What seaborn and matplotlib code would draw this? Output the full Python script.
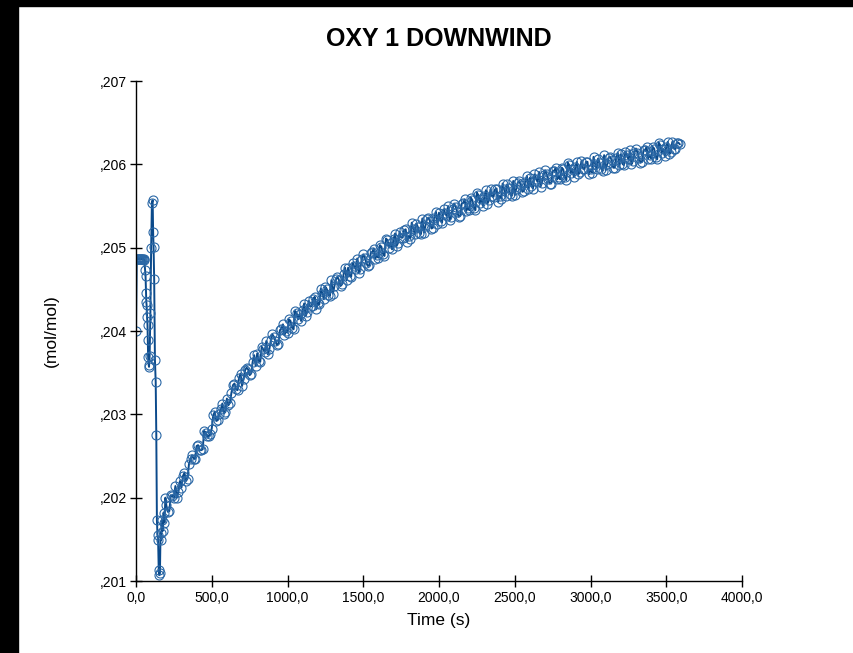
import numpy as np
import pandas as pd
import matplotlib
matplotlib.use('Agg')
import matplotlib.pyplot as plt
from matplotlib.patches import Rectangle
from matplotlib.ticker import FuncFormatter
import seaborn as sns

#------------------------------------------------------------------------------
# DATA
#------------------------------------------------------------------------------

# start-up transient: flat plateau, dip, spike, crash to the minimum
time_start = [0, 5, 10, 15, 20, 25, 30, 35, 40, 45, 50, 55,
              60, 63, 66, 68, 70, 73, 76, 78, 80, 84, 86,
              90, 95, 100, 105, 110, 113, 116, 120, 125, 130,
              134, 138, 142, 146, 150, 154, 158, 162, 166, 170, 176, 182, 188, 194]
oxy_start = [0.20400, 0.20486, 0.20487, 0.20486, 0.20487, 0.20486, 0.20487, 0.20486, 0.20487, 0.20486, 0.20487, 0.20485,
             0.20473, 0.20466, 0.20446, 0.20435, 0.20431, 0.20417, 0.20407, 0.20389, 0.20369, 0.20359, 0.20357,
             0.20370, 0.20422, 0.20500, 0.20554, 0.20557, 0.20519, 0.20501, 0.20462, 0.20365, 0.20339,
             0.20275, 0.20173, 0.20155, 0.20149, 0.20113, 0.20107, 0.20110, 0.20158, 0.20149, 0.20173, 0.20160, 0.20182, 0.20170, 0.20200]

# slow recovery towards ambient, readings on the even 20 s marks
time_main = [200, 220, 240, 260, 280, 300, 320, 340, 360, 380, 400, 420, 440, 460, 480,
             500, 520, 540, 560, 580, 600, 620, 640, 660, 680, 700, 720, 740, 760, 780,
             800, 820, 840, 860, 880, 900, 920, 940, 960, 980, 1000, 1020, 1040, 1060, 1080,
             1100, 1120, 1140, 1160, 1180, 1200, 1220, 1240, 1260, 1280, 1300, 1320, 1340, 1360, 1380,
             1400, 1420, 1440, 1460, 1480, 1500, 1520, 1540, 1560, 1580, 1600, 1620, 1640, 1660, 1680,
             1700, 1720, 1740, 1760, 1780, 1800, 1820, 1840, 1860, 1880, 1900, 1920, 1940, 1960, 1980,
             2000, 2020, 2040, 2060, 2080, 2100, 2120, 2140, 2160, 2180, 2200, 2220, 2240, 2260, 2280,
             2300, 2320, 2340, 2360, 2380, 2400, 2420, 2440, 2460, 2480, 2500, 2520, 2540, 2560, 2580,
             2600, 2620, 2640, 2660, 2680, 2700, 2720, 2740, 2760, 2780, 2800, 2820, 2840, 2860, 2880,
             2900, 2920, 2940, 2960, 2980, 3000, 3020, 3040, 3060, 3080, 3100, 3120, 3140, 3160, 3180,
             3200, 3220, 3240, 3260, 3280, 3300, 3320, 3340, 3360, 3380, 3400, 3420, 3440, 3460, 3480,
             3500, 3520, 3540, 3560, 3580, 3590]
oxy_main = [0.20191, 0.20184, 0.20202, 0.20214, 0.20207, 0.20212, 0.20230, 0.20223, 0.20246, 0.20247, 0.20262, 0.20257, 0.20258, 0.20278, 0.20274,
            0.20283, 0.20303, 0.20293, 0.20306, 0.20301, 0.20319, 0.20314, 0.20335, 0.20330, 0.20344, 0.20334, 0.20353, 0.20354, 0.20349, 0.20371,
            0.20373, 0.20363, 0.20378, 0.20388, 0.20378, 0.20396, 0.20388, 0.20385, 0.20403, 0.20395, 0.20398, 0.20412, 0.20402, 0.20422, 0.20420,
            0.20425, 0.20418, 0.20436, 0.20430, 0.20441, 0.20434, 0.20451, 0.20438, 0.20450, 0.20442, 0.20445, 0.20462, 0.20461, 0.20456, 0.20476,
            0.20476, 0.20465, 0.20478, 0.20487, 0.20475, 0.20492, 0.20482, 0.20479, 0.20495, 0.20487, 0.20488, 0.20501, 0.20490, 0.20509, 0.20506,
            0.20510, 0.20502, 0.20519, 0.20512, 0.20522, 0.20514, 0.20530, 0.20516, 0.20525, 0.20516, 0.20518, 0.20534, 0.20532, 0.20524, 0.20543,
            0.20542, 0.20530, 0.20542, 0.20550, 0.20537, 0.20553, 0.20543, 0.20538, 0.20554, 0.20544, 0.20545, 0.20557, 0.20545, 0.20563, 0.20559,
            0.20562, 0.20553, 0.20570, 0.20561, 0.20571, 0.20562, 0.20577, 0.20562, 0.20572, 0.20562, 0.20563, 0.20578, 0.20575, 0.20568, 0.20586,
            0.20584, 0.20571, 0.20583, 0.20591, 0.20578, 0.20593, 0.20582, 0.20577, 0.20592, 0.20582, 0.20582, 0.20594, 0.20581, 0.20599, 0.20594,
            0.20597, 0.20588, 0.20604, 0.20594, 0.20603, 0.20594, 0.20609, 0.20594, 0.20602, 0.20592, 0.20593, 0.20608, 0.20605, 0.20596, 0.20614,
            0.20612, 0.20599, 0.20611, 0.20617, 0.20604, 0.20619, 0.20608, 0.20603, 0.20617, 0.20607, 0.20607, 0.20619, 0.20606, 0.20623, 0.20618,
            0.20621, 0.20612, 0.20627, 0.20618, 0.20626, 0.20624]

# readings on the odd 10 s marks in between
time_mid = [210, 230, 250, 270, 290, 310, 330, 350, 370, 390, 410, 430, 450, 470, 490,
            510, 530, 550, 570, 590, 610, 630, 650, 670, 690, 710, 730, 750, 770, 790,
            810, 830, 850, 870, 890, 910, 930, 950, 970, 990, 1010, 1030, 1050, 1070, 1090,
            1110, 1130, 1150, 1170, 1190, 1210, 1230, 1250, 1270, 1290, 1310, 1330, 1350, 1370, 1390,
            1410, 1430, 1450, 1470, 1490, 1510, 1530, 1550, 1570, 1590, 1610, 1630, 1650, 1670, 1690,
            1710, 1730, 1750, 1770, 1790, 1810, 1830, 1850, 1870, 1890, 1910, 1930, 1950, 1970, 1990,
            2010, 2030, 2050, 2070, 2090, 2110, 2130, 2150, 2170, 2190, 2210, 2230, 2250, 2270, 2290,
            2310, 2330, 2350, 2370, 2390, 2410, 2430, 2450, 2470, 2490, 2510, 2530, 2550, 2570, 2590,
            2610, 2630, 2650, 2670, 2690, 2710, 2730, 2750, 2770, 2790, 2810, 2830, 2850, 2870, 2890,
            2910, 2930, 2950, 2970, 2990, 3010, 3030, 3050, 3070, 3090, 3110, 3130, 3150, 3170, 3190,
            3210, 3230, 3250, 3270, 3290, 3310, 3330, 3350, 3370, 3390, 3410, 3430, 3450, 3470, 3490,
            3510, 3530, 3550, 3570]
oxy_mid = [0.20183, 0.20203, 0.20200, 0.20200, 0.20220, 0.20226, 0.20220, 0.20241, 0.20251, 0.20247, 0.20263, 0.20257, 0.20280, 0.20274, 0.20276,
           0.20299, 0.20292, 0.20301, 0.20313, 0.20303, 0.20311, 0.20326, 0.20337, 0.20329, 0.20349, 0.20343, 0.20356, 0.20347, 0.20363, 0.20358,
           0.20364, 0.20381, 0.20375, 0.20372, 0.20389, 0.20393, 0.20383, 0.20401, 0.20408, 0.20400, 0.20414, 0.20404, 0.20424, 0.20414, 0.20412,
           0.20433, 0.20423, 0.20429, 0.20439, 0.20426, 0.20432, 0.20445, 0.20453, 0.20443, 0.20461, 0.20454, 0.20465, 0.20454, 0.20468, 0.20461,
           0.20466, 0.20482, 0.20474, 0.20470, 0.20486, 0.20488, 0.20478, 0.20494, 0.20499, 0.20491, 0.20503, 0.20493, 0.20511, 0.20500, 0.20498,
           0.20517, 0.20506, 0.20512, 0.20521, 0.20507, 0.20511, 0.20523, 0.20529, 0.20518, 0.20535, 0.20526, 0.20536, 0.20523, 0.20536, 0.20528,
           0.20532, 0.20546, 0.20538, 0.20533, 0.20547, 0.20549, 0.20537, 0.20553, 0.20558, 0.20548, 0.20560, 0.20548, 0.20566, 0.20554, 0.20550,
           0.20569, 0.20557, 0.20562, 0.20570, 0.20555, 0.20559, 0.20570, 0.20576, 0.20564, 0.20580, 0.20571, 0.20580, 0.20567, 0.20579, 0.20570,
           0.20574, 0.20588, 0.20579, 0.20573, 0.20587, 0.20588, 0.20577, 0.20592, 0.20596, 0.20585, 0.20596, 0.20585, 0.20602, 0.20590, 0.20585,
           0.20603, 0.20591, 0.20595, 0.20603, 0.20588, 0.20590, 0.20601, 0.20607, 0.20595, 0.20611, 0.20600, 0.20609, 0.20596, 0.20608, 0.20599,
           0.20601, 0.20615, 0.20606, 0.20600, 0.20614, 0.20614, 0.20602, 0.20617, 0.20621, 0.20611, 0.20621, 0.20609, 0.20626, 0.20614, 0.20610,
           0.20627, 0.20615, 0.20619, 0.20626]

x_ticks = [0, 500, 1000, 1500, 2000, 2500, 3000, 3500, 4000]
y_ticks = [0.201, 0.202, 0.203, 0.204, 0.205, 0.206, 0.207]

df = pd.DataFrame({'time': time_start + time_main + time_mid,
                   'oxy': oxy_start + oxy_main + oxy_mid})
df = df.sort_values('time', kind='stable').reset_index(drop=True)

#------------------------------------------------------------------------------
# PLOTTING
#------------------------------------------------------------------------------

sns.set_style('white')
plt.rcParams['font.family'] = ['Liberation Sans', 'DejaVu Sans']
plt.rcParams['text.color'] = 'black'
plt.rcParams['axes.labelcolor'] = 'black'

fig = plt.figure(figsize=(8.54, 6.53), dpi=100)
ax = fig.add_axes([136/854, 1 - 581/653, 606/854, 500/653])

sns.lineplot(data=df, x='time', y='oxy', ax=ax, sort=False, estimator=None,
             color='#0b4a8b', linewidth=1.4, marker='o', markersize=6.5,
             markerfacecolor='none', markeredgecolor='#2b68a6', markeredgewidth=0.8)

ax.set_xlim(x_ticks[0], x_ticks[-1])
ax.set_ylim(y_ticks[0], y_ticks[-1])
ax.set_xticks(x_ticks)
ax.set_yticks(y_ticks)
ax.xaxis.set_major_formatter(FuncFormatter(lambda v, p: f'{v:.1f}'.replace('.', ',')))
ax.yaxis.set_major_formatter(FuncFormatter(lambda v, p: f'{v:.3f}'.replace('0.', ',', 1)))
ax.tick_params(axis='both', direction='inout', length=9, width=1, color='black',
               labelsize=10, labelcolor='black', bottom=True, left=True)
ax.tick_params(axis='y', pad=2)
ax.tick_params(axis='x', pad=3)

sns.despine(ax=ax)
for s in ['left', 'bottom']:
    ax.spines[s].set_color('black')
    ax.spines[s].set_linewidth(1)

ax.set_xlabel('Time (s)', fontsize=12.5)
ax.set_ylabel('(mol/mol)', fontsize=12.5)
ax.xaxis.set_label_coords(0.5, -0.064)
ax.yaxis.set_label_coords(-0.128, 0.5)
ax.set_title('OXY 1 DOWNWIND', fontsize=18, fontweight='bold', pad=25, color='black')

# black frame strips of the original screenshot
fig.add_artist(Rectangle((0, 0), 18/854, 1, transform=fig.transFigure, color='black', zorder=10))
fig.add_artist(Rectangle((0, 1 - 6/653), 1, 6/653, transform=fig.transFigure, color='black', zorder=10))

fig.savefig('out.png', dpi=100, facecolor='white')
plt.close(fig)
